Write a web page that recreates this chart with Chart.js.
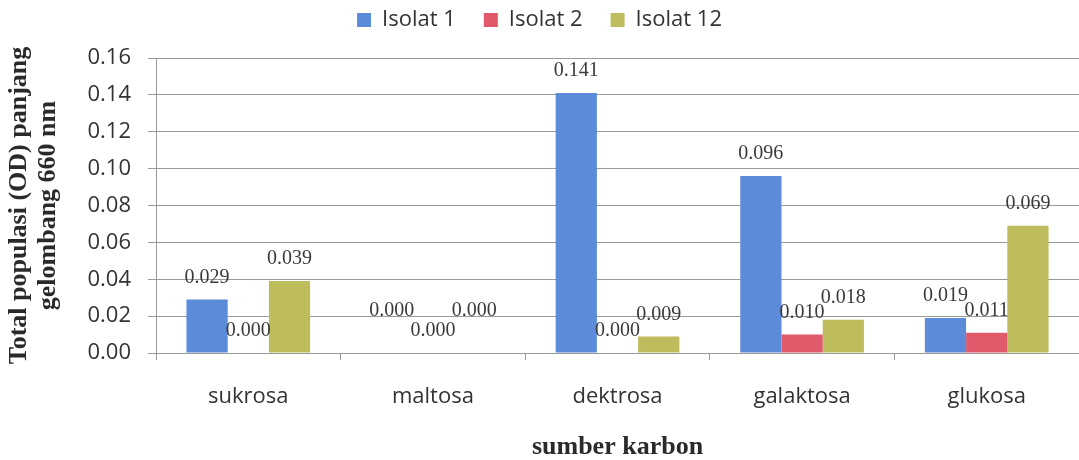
<!DOCTYPE html>
<html>
<head>
<meta charset="utf-8">
<script src="https://cdn.jsdelivr.net/npm/chart.js@4/dist/chart.umd.min.js"></script>
<style>
  html, body { margin: 0; padding: 0; background: #ffffff; }
  #wrap { width: 1079px; height: 460px; }
</style>
</head>
<body>
<div id="wrap"><canvas id="c" width="1079" height="460"></canvas></div>
<script>
// Carbon sources tested
const categories = ['sukrosa', 'maltosa', 'dektrosa', 'galaktosa', 'glukosa'];

// Optical density (660 nm) per isolate
const isolat1 = [0.029, 0.000, 0.141, 0.096, 0.019];
const isolat2 = [0.000, 0.000, 0.000, 0.010, 0.011];
const isolat12 = [0.039, 0.000, 0.009, 0.018, 0.069];

const seriesNames = ['Isolat 1', 'Isolat 2', 'Isolat 12'];
const seriesColors = ['#5b8bd9', '#e05a6c', '#bdbd5e'];

// Value axis ticks
const yTicks = [0.00, 0.02, 0.04, 0.06, 0.08, 0.10, 0.12, 0.14, 0.16];

const sans = "'Open Sans', 'Noto Sans', sans-serif";
const serif = "'Liberation Serif', 'DejaVu Serif', serif";
const gridColor = '#9a9a9a';

// Legend: fixed band height, items drawn a little higher inside it
const legendBand = {
  id: 'legendBand',
  beforeInit(chart) {
    const legend = chart.legend;
    if (!legend) return;
    const origFit = legend.fit;
    legend.fit = function () {
      origFit.call(this);
      this.height = 58;
    };
    const origDraw = legend.draw;
    legend.draw = function () {
      const c = this.ctx;
      c.save();
      c.translate(0, -19);
      origDraw.call(this);
      c.restore();
    };
  }
};

// Value labels above each bar; the middle series is placed first and
// neighbours that would collide with an existing label are lifted.
const valueLabels = {
  id: 'valueLabels',
  afterDatasetsDraw(chart) {
    const ctx = chart.ctx;
    ctx.save();
    ctx.font = "20px " + serif;
    ctx.fillStyle = '#3a3a3a';
    ctx.textAlign = 'center';
    ctx.textBaseline = 'middle';
    const placed = [];
    const order = [1, 0, 2];
    order.forEach(di => {
      const meta = chart.getDatasetMeta(di);
      const data = chart.data.datasets[di].data;
      meta.data.forEach((bar, i) => {
        const txt = data[i].toFixed(3);
        const w = ctx.measureText(txt).width;
        let y = bar.y - 22;
        const h = 12;
        let moved = true;
        while (moved) {
          moved = false;
          for (const p of placed) {
            if (Math.abs(p.x - bar.x) < (p.w + w) / 2 + 6 && Math.abs(p.y - y) < h) {
              y = p.y - 20;
              moved = true;
            }
          }
        }
        placed.push({ x: bar.x, y, w });
        ctx.fillText(txt, bar.x, y);
      });
    });
    ctx.restore();
  }
};

new Chart(document.getElementById('c'), {
  type: 'bar',
  data: {
    labels: categories,
    datasets: [
      { label: seriesNames[0], data: isolat1, backgroundColor: seriesColors[0] },
      { label: seriesNames[1], data: isolat2, backgroundColor: seriesColors[1] },
      { label: seriesNames[2], data: isolat12, backgroundColor: seriesColors[2] }
    ]
  },
  options: {
    responsive: false,
    animation: false,
    devicePixelRatio: 1,
    layout: { padding: 0 },
    datasets: { bar: { categoryPercentage: 0.67, barPercentage: 1.0 } },
    plugins: {
      legend: {
        position: 'top',
        labels: {
          boxWidth: 14,
          boxHeight: 14,
          padding: 28,
          color: '#333333',
          font: { family: sans, size: 22 }
        }
      },
      tooltip: { enabled: false }
    },
    scales: {
      x: {
        grid: {
          offset: true,
          drawOnChartArea: false,
          drawTicks: true,
          tickLength: 7,
          color: gridColor
        },
        border: { display: true, color: gridColor },
        ticks: {
          padding: 24,
          color: '#333333',
          font: { family: sans, size: 22 }
        },
        title: {
          display: true,
          text: 'sumber karbon',
          color: '#2a2a2a',
          font: { family: serif, size: 26, weight: 'bold', lineHeight: 1.0 },
          padding: { top: 0, bottom: 0 }
        },
        afterFit(scale) { scale.height = 107; }
      },
      y: {
        min: 0,
        max: 0.16,
        afterBuildTicks(scale) { scale.ticks = yTicks.map(v => ({ value: v })); },
        grid: { color: gridColor, tickLength: 8, drawTicks: true },
        border: { display: true, color: gridColor },
        ticks: {
          padding: 17,
          color: '#333333',
          font: { family: sans, size: 22 },
          callback: v => Number(v).toFixed(2)
        },
        title: {
          display: true,
          text: ['Total populasi (OD) panjang', 'gelombang 660 nm'],
          color: '#2a2a2a',
          font: { family: serif, size: 26, weight: 'bold', lineHeight: 1.115 },
          padding: { top: 5, bottom: 0 }
        },
        afterFit(scale) { scale.width = 156; }
      }
    }
  },
  plugins: [legendBand, valueLabels]
});
</script>
</body>
</html>
